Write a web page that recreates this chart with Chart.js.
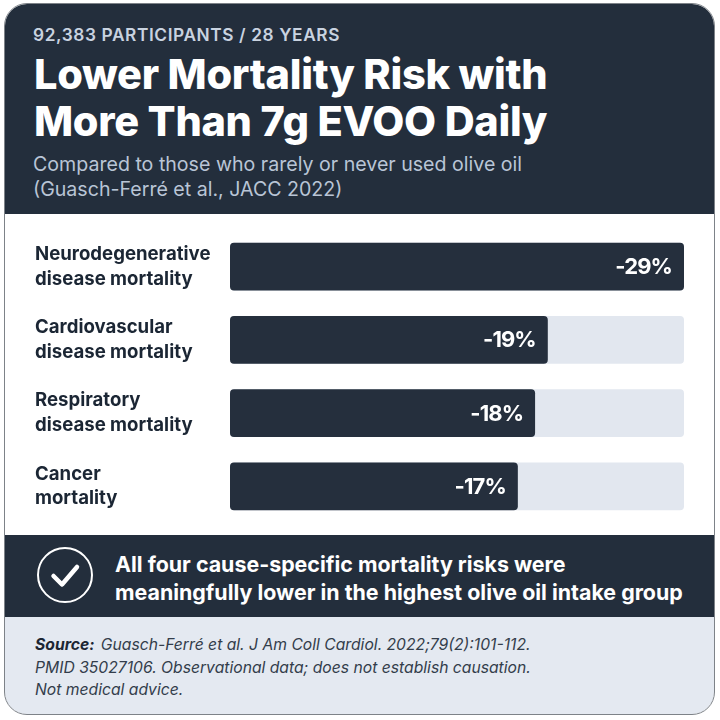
<!DOCTYPE html>
<html>
<head>
<meta charset="utf-8">
<title>Lower Mortality Risk with More Than 7g EVOO Daily</title>
<script src="https://cdn.jsdelivr.net/npm/chart.js@4/dist/chart.umd.min.js"></script>
<style>
html, body { margin: 0; padding: 0; background: #fff; }
body { width: 720px; height: 720px; position: relative; overflow: hidden; font-family: Inter, "Noto Sans", sans-serif; }
#card { position: absolute; left: 5px; top: 4px; width: 709px; height: 710px; border-radius: 22px; overflow: hidden; background: #fff; }
#cardBorder { position: absolute; left: 4px; top: 3px; width: 709px; height: 710px; border: 1.5px solid #7d8288; border-radius: 23px; pointer-events: none; }
.band { position: absolute; left: 0; width: 709px; }
#head { top: 0; height: 210px; background: #232e3c; }
#callout { top: 531px; height: 82px; background: #232e3c; }
#foot { top: 613px; height: 97px; background: #e4e9f1; }
.txt { position: absolute; white-space: nowrap; }
#eyebrow { left: 33px; top: 24px; font-size: 17.3px; line-height: 22px; font-weight: 600; letter-spacing: 0.6px; color: #c9d3e0; }
#title { left: 34px; top: 51px; font-size: 41.5px; line-height: 47px; font-weight: 800; color: #fff; letter-spacing: -0.3px; }
#subtitle { left: 33px; top: 152px; font-size: 19.6px; line-height: 25px; color: #b9c5d6; }
#calloutText { left: 115px; top: 550px; font-size: 21.4px; line-height: 28px; font-weight: 700; color: #fff; }
#source { left: 35px; top: 634px; font-size: 15.7px; line-height: 22.5px; font-style: italic; color: #333d4b; }
#source b { color: #1c2633; font-weight: 700; margin-right: 2px; }
#chartBox { position: absolute; left: 0; top: 214px; width: 720px; height: 321px; }
#tick { position: absolute; left: 36px; top: 547px; }
</style>
</head>
<body>
<div id="card">
  <div class="band" id="head"></div>
  <div class="band" id="callout"></div>
  <div class="band" id="foot"></div>
</div>
<div id="chartBox"><canvas id="riskChart" width="720" height="321"></canvas></div>
<div class="txt" id="eyebrow">92,383 PARTICIPANTS / 28 YEARS</div>
<div class="txt" id="title">Lower Mortality Risk with<br>More Than 7g EVOO Daily</div>
<div class="txt" id="subtitle">Compared to those who rarely or never used olive oil<br>(Guasch-Ferré et al., JACC 2022)</div>
<svg id="tick" width="58" height="58" viewBox="0 0 58 58">
  <circle cx="29" cy="28" r="27" fill="none" stroke="#fff" stroke-width="2"></circle>
  <path d="M17.5 29 L26 37.5 L41 20" fill="none" stroke="#fff" stroke-width="4.5" stroke-linecap="round" stroke-linejoin="round"></path>
</svg>
<div class="txt" id="calloutText">All four cause-specific mortality risks were<br>meaningfully lower in the highest olive oil intake group</div>
<div class="txt" id="source"><b>Source:</b> Guasch-Ferré et al. J Am Coll Cardiol. 2022;79(2):101-112.<br>PMID 35027106. Observational data; does not establish causation.<br>Not medical advice.</div>
<div id="cardBorder"></div>

<script>
// Categories, split over two lines like the reference
var categories = [
    ['Neurodegenerative', 'disease mortality'],
    ['Cardiovascular', 'disease mortality'],
    ['Respiratory', 'disease mortality'],
    ['Cancer', 'mortality']
];

// Printed risk labels
var riskLabels = ['-29%', '-19%', '-18%', '-17%'];

// Drawn bar lengths, % of the full track
var barLengths = [100, 70, 67.2, 63.4];
var trackLengths = [100, 100, 100, 100];

// Writes the risk label inside the end of each dark bar
var riskLabelPlugin = {
    id: 'riskLabel',
    afterDatasetsDraw: function (chart) {
        var ctx = chart.ctx;
        var bars = chart.getDatasetMeta(0).data;
        ctx.save();
        ctx.fillStyle = '#ffffff';
        ctx.font = '700 22px Inter, "Noto Sans", sans-serif';
        ctx.letterSpacing = '-0.9px';
        ctx.textAlign = 'right';
        ctx.textBaseline = 'middle';
        bars.forEach(function (bar, i) {
            ctx.fillText(riskLabels[i], bar.x - 12, bar.y + 1);
        });
        ctx.restore();
    }
};

new Chart(document.getElementById('riskChart').getContext('2d'), {
    type: 'bar',
    data: {
        labels: categories,
        datasets: [
            {
                data: barLengths,
                backgroundColor: '#252f3d',
                borderRadius: 4,
                borderSkipped: false,
                order: 1
            },
            {
                data: trackLengths,
                backgroundColor: '#e2e7ef',
                borderRadius: 4,
                borderSkipped: false,
                order: 2
            }
        ]
    },
    options: {
        indexAxis: 'y',
        responsive: false,
        animation: false,
        devicePixelRatio: 1,
        layout: { padding: { left: 35, right: 36, top: 16, bottom: 12 } },
        datasets: { bar: { grouped: false, categoryPercentage: 1, barPercentage: 0.65 } },
        plugins: { legend: { display: false }, tooltip: { enabled: false } },
        scales: {
            x: {
                min: 0,
                max: 100,
                display: false
            },
            y: {
                afterFit: function (scale) {
                    // fixed label column, and no extra room for the two-line first and last labels
                    scale.width = 195;
                    scale.paddingTop = 0;
                    scale.paddingBottom = 0;
                },
                grid: { display: false },
                border: { display: false },
                ticks: {
                    crossAlign: 'far',
                    color: '#1b2634',
                    padding: 0,
                    font: { family: 'Inter, "Noto Sans", sans-serif', size: 18.6, weight: '700', lineHeight: 1.34 }
                }
            }
        }
    },
    plugins: [riskLabelPlugin]
});
</script>
</body>
</html>
